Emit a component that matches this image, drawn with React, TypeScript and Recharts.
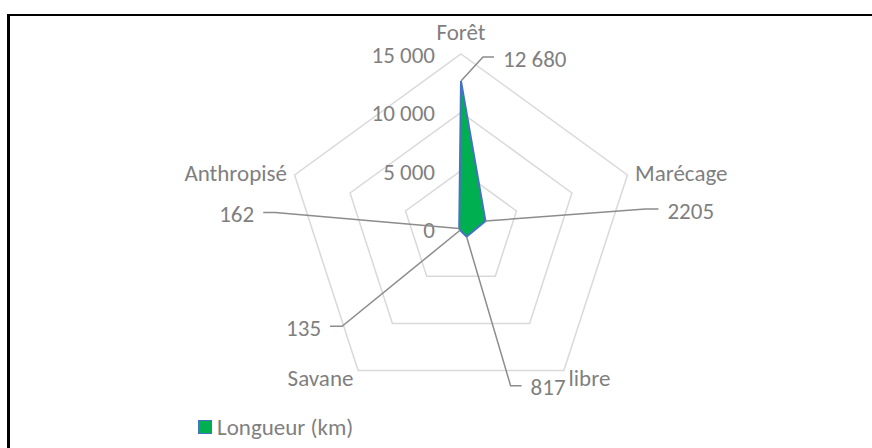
import { RadarChart, Radar, PolarGrid, PolarAngleAxis, PolarRadiusAxis, Legend } from "recharts";

const categories = ["Forêt", "Marécage", "libre", "Savane", "Anthropisé"];
const lengths = [12680, 2205, 817, 135, 162];
const radiusTicks = [0, 5000, 10000, 15000];
const seriesName = "Longueur (km)";

// leader line layout for each data label (elbow offset from point, then horizontal tail)
const labelLayout = [
  { dx: 22, dy: -24, tail: 11 },
  { dx: 160, dy: -12, tail: 13 },
  { dx: 44, dy: 149, tail: 11 },
  { dx: -118, dy: 96, tail: -12 },
  { dx: -184, dy: -16, tail: -12 },
];

const data = categories.map((name, i) => ({ name, value: lengths[i] }));

const FONT = "Calibri, Carlito, Lato, sans-serif";
const TEXT = "#7f7f7f";
const FS = 23;
const spaced = (v: number) => String(v).replace(/\B(?=(\d{3})+(?!\d))/g, " ");
const labelText = (v: number) => (v >= 10000 ? spaced(v) : String(v));

function AngleTick(props: any) {
  const { x, y, cx, payload } = props;
  const top = Math.abs(x - cx) < 1 && y < props.cy;
  const anchor = top ? "middle" : x > cx + 1 ? "start" : "end";
  return (
    <text
      x={x}
      y={top ? y - 14 : y + 1}
      textAnchor={anchor}
      dominantBaseline="central"
      fill={TEXT}
      fontSize={FS}
      fontFamily={FONT}
    >
      {payload.value}
    </text>
  );
}

function RadiusTick(props: any) {
  const { x, y, payload } = props;
  return (
    <text x={x - 26} y={y + 1} textAnchor="end" dominantBaseline="central" fill={TEXT} fontSize={FS} fontFamily={FONT}>
      {spaced(payload.value)}
    </text>
  );
}

function LeaderLabel(props: any) {
  const { cx, cy, index, payload } = props;
  const l = labelLayout[index];
  if (!l) return <g />;
  const ex = cx + l.dx;
  const ey = cy + l.dy;
  const tx = ex + l.tail;
  return (
    <g>
      <polyline points={`${cx},${cy} ${ex},${ey} ${tx},${ey}`} fill="none" stroke="#8c8c8c" strokeWidth={1.5} />
      <text
        x={tx + (l.tail > 0 ? 9 : -9)}
        y={ey + 1.5}
        textAnchor={l.tail > 0 ? "start" : "end"}
        dominantBaseline="central"
        fill={TEXT}
        fontSize={FS}
        fontFamily={FONT}
      >
        {labelText(payload.value)}
      </text>
    </g>
  );
}

function LegendContent() {
  return (
    <div style={{ display: "flex", alignItems: "center", fontFamily: FONT, fontSize: FS, color: TEXT }}>
      <span style={{ width: 12, height: 12, background: "#00b050", border: "1.5px solid #4472c4", marginRight: 5 }} />
      {seriesName}
    </div>
  );
}

export default function App() {
  return (
    <div style={{ position: "absolute", left: 0, top: 0, width: 872, height: 448, background: "#fff" }}>
      <div
        style={{
          position: "absolute",
          left: 7,
          top: 14,
          right: 0,
          bottom: 0,
          borderTop: "2px solid #000",
          borderLeft: "3px solid #000",
        }}
      />
      <div style={{ position: "absolute", left: 0, top: 0 }}>
        <RadarChart
          width={872}
          height={448}
          data={data}
          cx={461}
          cy={229}
          outerRadius={175}
          margin={{ top: 0, right: 0, bottom: 0, left: 0 }}
        >
          <PolarGrid gridType="polygon" radialLines={false} stroke="#d9d9d9" strokeWidth={1.5} />
          <PolarAngleAxis dataKey="name" tick={<AngleTick />} tickLine={false} axisLine={false} />
          <PolarRadiusAxis
            angle={90}
            domain={[0, 15000]}
            ticks={radiusTicks}
            tickCount={4}
            axisLine={false}
            tick={<RadiusTick />}
          />
          <Radar
            name={seriesName}
            dataKey="value"
            stroke="#4472c4"
            strokeWidth={2}
            fill="#00b050"
            fillOpacity={1}
            dot={<LeaderLabel />}
            isAnimationActive={false}
          />
          <Legend
            content={<LegendContent />}
            wrapperStyle={{ position: "absolute", left: 198, top: 413, width: 220 }}
          />
        </RadarChart>
      </div>
    </div>
  );
}
